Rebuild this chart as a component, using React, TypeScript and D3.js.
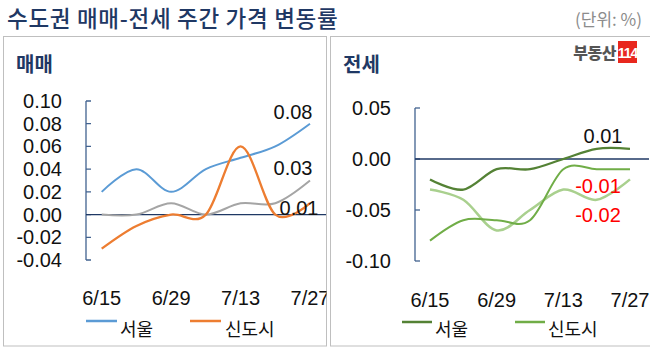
import React from "react";
import * as d3 from "d3";

const dates = ["6/15", "6/22", "6/29", "7/6", "7/13", "7/20", "7/27"];
const dateTicks = ["6/15", "6/29", "7/13", "7/27"];

// 매매 (sale)
const saleSeoul = [0.02, 0.04, 0.02, 0.04, 0.05, 0.06, 0.08];
const saleNewTown = [-0.03, -0.01, 0.0, 0.0, 0.06, 0.0, 0.01];
const saleGyeonggi = [0.0, 0.0, 0.01, 0.0, 0.01, 0.01, 0.03];
const saleTicks = [0.1, 0.08, 0.06, 0.04, 0.02, 0.0, -0.02, -0.04];

// 전세 (jeonse)
const jeonseSeoul = [-0.02, -0.03, -0.01, -0.01, 0.0, 0.01, 0.01];
const jeonseNewTown = [-0.08, -0.06, -0.06, -0.06, -0.01, -0.01, -0.01];
const jeonseGyeonggi = [-0.03, -0.04, -0.07, -0.05, -0.03, -0.04, -0.02];
const jeonseTicks = [0.05, 0.0, -0.05, -0.1];

const NUM = "'Liberation Sans', Arial, sans-serif";
const KR = "'Noto Sans CJK KR', 'Noto Sans', sans-serif";
const NAVY = "#1f3864";
const AXIS = "#41628f";

type Series = { values: number[]; color: string; width: number };

const Panel = ({
  x0, yDomain, yRange, xRange, ticks, series, axisX, zeroEnd, fmt,
}: {
  x0: number; yDomain: [number, number]; yRange: [number, number];
  xRange: [number, number]; ticks: number[]; series: Series[];
  axisX: number; zeroEnd: number; fmt: (v: number) => string;
}) => {
  const x = d3.scalePoint<string>().domain(dates).range(xRange);
  const y = d3.scaleLinear().domain(yDomain).range(yRange);
  const line = d3
    .line<number>()
    .x((_, i) => x(dates[i]) as number)
    .y((d) => y(d))
    .curve(d3.curveCardinal.tension(0));
  return (
    <g>
      {/* y axis */}
      <line x1={axisX} x2={axisX} y1={y(yDomain[1])} y2={y(yDomain[0])} stroke={AXIS} strokeWidth={1.3} />
      {ticks.map((t) => (
        <g key={t}>
          <line x1={axisX} x2={axisX + 5} y1={y(t)} y2={y(t)} stroke={AXIS} strokeWidth={1.3} />
          <text x={axisX - 24} y={y(t) + 7} textAnchor="end" fontFamily={NUM} fontSize={20} fill="#111">
            {fmt(t)}
          </text>
        </g>
      ))}
      <line x1={axisX} x2={zeroEnd} y1={y(0)} y2={y(0)} stroke={NAVY} strokeWidth={1.3} />
      {series.map((s, i) => (
        <path key={i} d={line(s.values) || ""} fill="none" stroke={s.color} strokeWidth={s.width} />
      ))}
      {dateTicks.map((d) => (
        <text key={d} x={x(d)} y={x0 > 100 ? 307 : 305} textAnchor="middle" fontFamily={NUM} fontSize={20} fill="#111">
          {d}
        </text>
      ))}
    </g>
  );
};

export default function App() {
  const fmt = (v: number) => v.toFixed(2);
  return (
    <svg width={650} height={352} style={{ position: "absolute", left: 0, top: 0, background: "#fff" }}>
      <defs>
        <clipPath id="leftClip">
          <rect x={3.5} y={36} width={323} height={310} />
        </clipPath>
      </defs>
      <text x={7} y={27} fontFamily={KR} fontSize={22.5} fontWeight={500} letterSpacing={0.7} fill={NAVY}>
        수도권 매매-전세 주간 가격 변동률
      </text>
      <text x={642} y={26} textAnchor="end" fontFamily={KR} fontSize={17} fill="#8c8c8c">
        (단위: %)
      </text>

      <rect x={3.5} y={36.5} width={323} height={309.5} fill="none" stroke="#bfbfbf" />
      <rect x={330.5} y={36.5} width={320} height={309.5} fill="none" stroke="#bfbfbf" />

      <text x={16} y={72} fontFamily={KR} fontSize={20} fontWeight={700} fill={NAVY}>매매</text>
      <text x={343} y={72} fontFamily={KR} fontSize={20} fontWeight={700} fill={NAVY}>전세</text>

      {/* logo */}
      <text x={616} y={59} textAnchor="end" fontFamily={KR} fontSize={16} fontWeight={900} fill="#555" letterSpacing={-0.5}>부동산</text>
      <rect x={618} y={41} width={19} height={22} fill="#e8281e" />
      <text x={627.5} y={58} textAnchor="middle" fontFamily={NUM} fontSize={14} fontWeight={700} fill="#fff" letterSpacing={-1}>114</text>

      <g clipPath="url(#leftClip)">
        <Panel
          x0={0}
          yDomain={[-0.04, 0.1]}
          yRange={[260, 101]}
          xRange={[101.7, 310]}
          ticks={saleTicks}
          axisX={86}
          zeroEnd={326}
          fmt={fmt}
          series={[
            { values: saleGyeonggi, color: "#a5a5a5", width: 2 },
            { values: saleSeoul, color: "#5b9bd5", width: 2 },
            { values: saleNewTown, color: "#ed7d31", width: 2.3 },
          ]}
        />
        <text x={293} y={119} textAnchor="middle" fontFamily={NUM} fontSize={20} fill="#111">0.08</text>
        <text x={293} y={175} textAnchor="middle" fontFamily={NUM} fontSize={20} fill="#111">0.03</text>
        <text x={299} y={215} textAnchor="middle" fontFamily={NUM} fontSize={20} fill="#111">0.01</text>
      </g>

      <Panel
        x0={330}
        yDomain={[-0.1, 0.05]}
        yRange={[261, 108]}
        xRange={[430, 630]}
        ticks={jeonseTicks}
        axisX={415}
        zeroEnd={649}
        fmt={fmt}
        series={[
          { values: jeonseGyeonggi, color: "#a9d08e", width: 2.5 },
          { values: jeonseNewTown, color: "#70ad47", width: 2 },
          { values: jeonseSeoul, color: "#548235", width: 2.3 },
        ]}
      />
      <text x={603} y={143} textAnchor="middle" fontFamily={NUM} fontSize={20} fill="#111">0.01</text>
      <text x={598} y={193} textAnchor="middle" fontFamily={NUM} fontSize={20} fill="#ff0000">-0.01</text>
      <text x={598} y={222} textAnchor="middle" fontFamily={NUM} fontSize={20} fill="#ff0000">-0.02</text>

      {/* legends */}
      <line x1={86} x2={117} y1={321} y2={321} stroke="#5b9bd5" strokeWidth={2.5} />
      <text x={120} y={336} fontFamily={KR} fontSize={18} fill="#111">서울</text>
      <line x1={190} x2={221} y1={321} y2={321} stroke="#ed7d31" strokeWidth={2.5} />
      <text x={225} y={336} fontFamily={KR} fontSize={18} fill="#111">신도시</text>

      <line x1={402} x2={432} y1={322} y2={322} stroke="#548235" strokeWidth={2.5} />
      <text x={435} y={336} fontFamily={KR} fontSize={18} fill="#111">서울</text>
      <line x1={515} x2={545} y1={322} y2={322} stroke="#70ad47" strokeWidth={2.5} />
      <text x={548} y={336} fontFamily={KR} fontSize={18} fill="#111">신도시</text>
    </svg>
  );
}
